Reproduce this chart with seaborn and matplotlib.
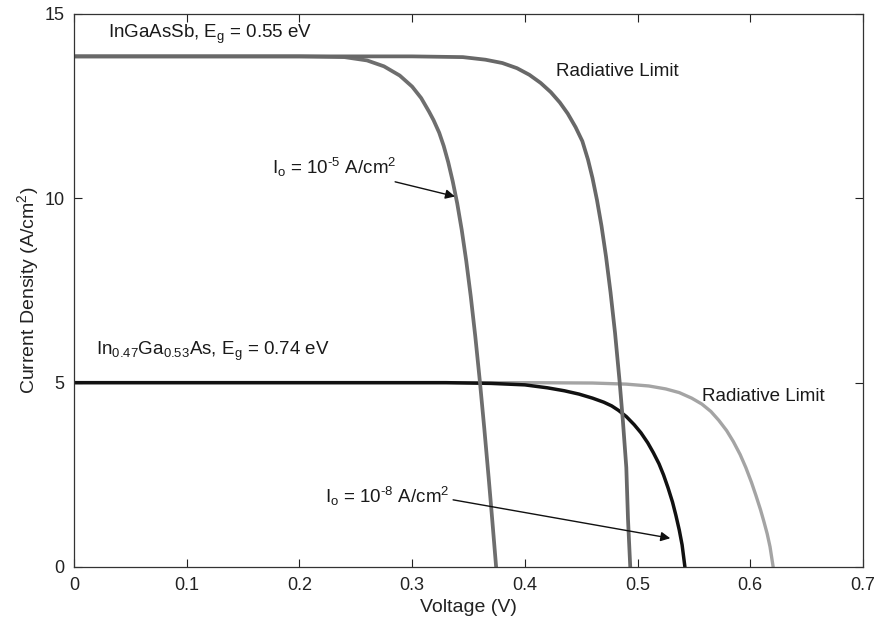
import matplotlib
matplotlib.use("Agg")
import matplotlib.pyplot as plt
import pandas as pd
import seaborn as sns

# J-V curves, voltage in V and current density in A/cm^2
sb_io_v = [0.0, 0.20, 0.24, 0.26, 0.275, 0.289, 0.300, 0.308, 0.315, 0.319, 0.324,
           0.328, 0.332, 0.336, 0.340, 0.344, 0.348, 0.352, 0.356, 0.360, 0.364,
           0.368, 0.371, 0.3745]
sb_io_j = [13.85, 13.85, 13.83, 13.74, 13.58, 13.33, 13.03, 12.72, 12.35, 12.12, 11.78,
           11.42, 10.98, 10.46, 9.86, 9.14, 8.30, 7.34, 6.26, 5.06, 3.76,
           2.38, 1.30, 0.0]

sb_rad_v = [0.0, 0.30, 0.345, 0.365, 0.380, 0.393, 0.404, 0.414, 0.423, 0.431, 0.438,
            0.445, 0.451, 0.456, 0.460, 0.464, 0.468, 0.472, 0.476, 0.480, 0.484,
            0.487, 0.490, 0.4915, 0.4935]
sb_rad_j = [13.85, 13.85, 13.83, 13.76, 13.67, 13.53, 13.35, 13.13, 12.88, 12.60, 12.30,
            11.93, 11.55, 11.05, 10.55, 9.95, 9.25, 8.42, 7.45, 6.35, 5.05,
            3.95, 2.70, 1.30, 0.0]

as_rad_v = [0.0, 0.40, 0.46, 0.49, 0.510, 0.525, 0.537, 0.548, 0.557, 0.565, 0.572,
            0.579, 0.585, 0.591, 0.596, 0.601, 0.605, 0.609, 0.612, 0.615, 0.6175,
            0.6203]
as_rad_j = [5.00, 5.00, 4.99, 4.96, 4.91, 4.83, 4.73, 4.58, 4.42, 4.22, 3.98,
            3.70, 3.40, 3.05, 2.70, 2.30, 1.94, 1.56, 1.24, 0.90, 0.55,
            0.0]

as_io_v = [0.0, 0.33, 0.37, 0.40, 0.42, 0.435, 0.448, 0.460, 0.470, 0.477, 0.483,
           0.490, 0.497, 0.503, 0.509, 0.514, 0.519, 0.523, 0.527, 0.531, 0.534,
           0.537, 0.5395, 0.542]
as_io_j = [5.00, 5.00, 4.98, 4.94, 4.86, 4.78, 4.69, 4.58, 4.47, 4.37, 4.25,
           4.08, 3.86, 3.64, 3.37, 3.10, 2.80, 2.50, 2.15, 1.76, 1.40,
           1.00, 0.60, 0.0]

curves = [
    (as_rad_v, as_rad_j, "#a4a4a4", 2.4),
    (as_io_v, as_io_j, "#111111", 2.5),
    (sb_io_v, sb_io_j, "#6e6e6e", 2.7),
    (sb_rad_v, sb_rad_j, "#686868", 2.7),
]

sns.set_theme(style="ticks")
plt.rcParams["font.family"] = ["Liberation Sans", "DejaVu Sans"]
plt.rcParams["mathtext.fontset"] = "custom"
plt.rcParams["mathtext.rm"] = "Liberation Sans"
plt.rcParams["mathtext.it"] = "Liberation Sans"
plt.rcParams["mathtext.bf"] = "Liberation Sans"

fig = plt.figure(figsize=(8.79, 6.27), dpi=100)
ax = fig.add_axes([0.0842, 0.0957, 0.8976, 0.882])

for v, j, color, lw in curves:
    df = pd.DataFrame({"Voltage": v, "Current": j})
    sns.lineplot(data=df, x="Voltage", y="Current", ax=ax, color=color,
                 linewidth=lw, sort=False, estimator=None)

ax.set_xlim(0, 0.7)
ax.set_ylim(0, 15)
ax.set_xticks([0, 0.1, 0.2, 0.3, 0.4, 0.5, 0.6, 0.7])
ax.set_xticklabels(["0", "0.1", "0.2", "0.3", "0.4", "0.5", "0.6", "0.7"])
ax.set_yticks([0, 5, 10, 15])
ax.tick_params(direction="in", top=True, right=True, length=6, width=0.8,
               labelsize=13, colors="#222222", pad=7)
for s in ax.spines.values():
    s.set_linewidth(0.9)
    s.set_color("#333333")

ax.set_xlabel("Voltage (V)", fontsize=14, color="#222222", labelpad=4)
ax.set_ylabel("Current Density (A/cm$^2$)", fontsize=14, color="#222222", labelpad=2)

tk = dict(fontsize=13.5, color="#1a1a1a", va="center", ha="left")
ax.text(0.030, 14.45, "InGaAsSb, E$_\\mathrm{g}$ = 0.55 eV", **tk)
ax.text(0.428, 13.45, "Radiative Limit", **tk)
ax.text(0.0195, 5.85, "In$_{0.47}$Ga$_{0.53}$As, E$_\\mathrm{g}$ = 0.74 eV", **tk)
ax.text(0.557, 4.62, "Radiative Limit", **tk)

arrow = dict(arrowstyle="-|>", color="#111111", lw=1.0, mutation_scale=14,
             shrinkA=0, shrinkB=0)
ax.annotate("I$_\\mathrm{o}$ = 10$^{\\text{-5}}$ A/cm$^2$", xy=(0.338, 10.05),
            xytext=(0.176, 10.85), arrowprops=arrow, **tk)
ax.annotate("I$_\\mathrm{o}$ = 10$^{\\text{-8}}$ A/cm$^2$", xy=(0.529, 0.78),
            xytext=(0.223, 1.9), arrowprops=dict(arrow, relpos=(1.0, 0.4)), **tk)

fig.savefig("out.png", dpi=100, facecolor="white")
